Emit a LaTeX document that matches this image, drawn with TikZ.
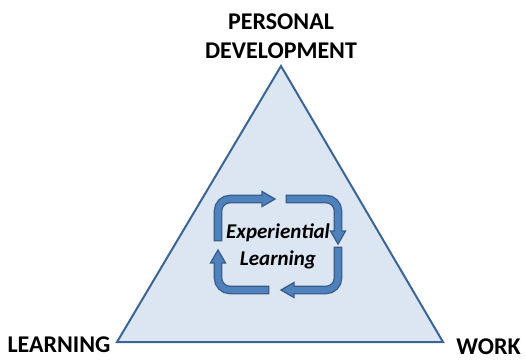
\documentclass[tikz,border=0pt]{standalone}
\usepackage{fontspec}
\setmainfont{Carlito}
\definecolor{trifill}{HTML}{DCE6F2}
\definecolor{triline}{HTML}{3B6496}
\definecolor{arrfill}{HTML}{4F81BD}
\definecolor{arrline}{HTML}{385D8A}
\tikzset{
  lab/.style={font=\bfseries\fontsize{24}{28.5}\selectfont, inner sep=0pt},
  labml/.style={lab, align=center},
  elab/.style={font=\bfseries\itshape\fontsize{21}{27}\selectfont, align=center, inner sep=0pt},
  shaftb/.style={draw=arrline, line width=8.6pt, rounded corners=12pt},
  shaftf/.style={draw=arrfill, line width=6pt, rounded corners=12pt},
  headst/.style={fill=arrfill, draw=arrline, line width=1.3pt, line join=miter},
}
\begin{document}
\begin{tikzpicture}[x=1pt,y=-1pt]
\useasboundingbox (0,0) rectangle (526,360);
% triangle
\coordinate (top) at (281,66);
\coordinate (bl) at (117,342);
\coordinate (br) at (443,342);
\draw[fill=trifill, draw=triline, line width=2pt, line join=miter] (top) -- (br) -- (bl) -- cycle;
% labels
\node[labml] (pd) at (281,36) {PERSONAL\\DEVELOPMENT};
\node[lab, anchor=base] (learn) at (59,352) {LEARNING};
\node[lab, anchor=base east] (work) at (521,354) {WORK};
% arrow 1 (left-up then right)
\draw[shaftb] (218,241.3) -- (218,199) -- (263,199);
\filldraw[headst] (262,191.5) -- (275,199) -- (262,206.5) -- cycle;
\draw[shaftf] (218,240) -- (218,199) -- (263.5,199);
% arrow 2 (right then down)
\draw[shaftb] (285.7,199) -- (338,199) -- (338,232);
\filldraw[headst] (330.5,231) -- (338,244) -- (345.5,231) -- cycle;
\draw[shaftf] (287,199) -- (338,199) -- (338,232.5);
% arrow 3 (down then left)
\draw[shaftb] (338,246.7) -- (338,290) -- (293,290);
\filldraw[headst] (294,282.5) -- (281,290) -- (294,297.5) -- cycle;
\draw[shaftf] (338,248) -- (338,290) -- (292.5,290);
% arrow 4 (left then up)
\draw[shaftb] (269.3,290) -- (218,290) -- (218,263);
\filldraw[headst] (210.5,263) -- (218,250) -- (225.5,263) -- cycle;
\draw[shaftf] (268,290) -- (218,290) -- (218,261.5);
% centre text
\node[elab] (exp) at (278,246) {Experiential\\Learning};
\end{tikzpicture}
\end{document}
